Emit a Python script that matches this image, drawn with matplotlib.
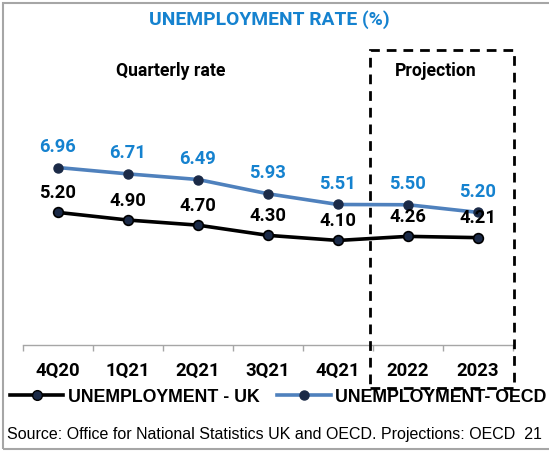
import matplotlib.pyplot as plt
from matplotlib.patches import Rectangle
from matplotlib.lines import Line2D

periods = ['4Q20', '1Q21', '2Q21', '3Q21', '4Q21', '2022', '2023']
uk_rate = [5.20, 4.90, 4.70, 4.30, 4.10, 4.26, 4.21]
oecd_rate = [6.96, 6.71, 6.49, 5.93, 5.51, 5.50, 5.20]

W, H = 549, 451
fig = plt.figure(figsize=(W / 100, H / 100), dpi=100)

# plot area in pixels: x 23..513, baseline at y=345, 25.5 px per unit
ax = fig.add_axes([23 / W, (H - 345) / H, 490 / W, 8 * 25.5 / H])
x = list(range(len(periods)))

navy = '#1b2a47'
blue_line = '#4f81bd'
blue_text = '#1582cf'
lab_font = 'Roboto'

ax.plot(x, uk_rate, color='black', lw=2.6, marker='o', ms=7,
        mfc=navy, mec='black', mew=1.2, zorder=3)
ax.plot(x, oecd_rate, color=blue_line, lw=2.6, marker='o', ms=6.5,
        mfc=navy, mec=navy, zorder=3)

for xi, v in zip(x, uk_rate):
    ax.annotate(f'{v:.2f}', (xi, v), xytext=(0, 7.5), textcoords='offset points',
                ha='center', va='bottom', fontsize=13.2, fontweight='bold',
                family=lab_font, color='black')
for xi, v in zip(x, oecd_rate):
    ax.annotate(f'{v:.2f}', (xi, v), xytext=(0, 8.5), textcoords='offset points',
                ha='center', va='bottom', fontsize=13.2, fontweight='bold',
                family=lab_font, color=blue_text)

ax.set_xlim(-0.5, len(periods) - 0.5)
ax.set_ylim(0, 8)
ax.set_yticks([])
for s in ['top', 'right', 'left']:
    ax.spines[s].set_visible(False)
ax.spines['bottom'].set_color('#a6a6a6')
ax.spines['bottom'].set_linewidth(1.0)

# category labels between boundary tick marks
ax.set_xticks([i - 0.5 for i in range(len(periods) + 1)])
ax.set_xticklabels([])
ax.set_xticks(x, minor=True)
ax.set_xticklabels(periods, minor=True, fontsize=13.3, fontweight='bold', family=lab_font)
ax.tick_params(axis='x', which='major', length=4, color='#a6a6a6', width=1)
ax.tick_params(axis='x', which='minor', length=0, pad=12)

fig.text(269 / W, 1 - 20 / H, 'UNEMPLOYMENT RATE (%)', ha='center', va='center',
         fontsize=13.9, fontweight='bold', family=lab_font, color=blue_text)
fig.text(171 / W, 1 - 71 / H, 'Quarterly rate', ha='center', va='center',
         fontsize=12.7, fontweight='bold', family=lab_font)
fig.text(436 / W, 1 - 71 / H, 'Projection', ha='center', va='center',
         fontsize=12.7, fontweight='bold', family=lab_font)

# dashed frame around the projection years
fig.patches.append(Rectangle((370 / W, 1 - 388 / H), 144 / W, 338 / H,
                             transform=fig.transFigure, fill=False, ec='black',
                             lw=2, ls=(0, (3.5, 2.5))))
# outer border
fig.patches.append(Rectangle((3 / W, 1 - 449 / H), 560 / W, 446 / H,
                             transform=fig.transFigure, fill=False, ec='#a6a6a6',
                             lw=1.5))

handles = [
    Line2D([], [], color='black', lw=2.6, marker='o', ms=7, mfc=navy, mec='black'),
    Line2D([], [], color=blue_line, lw=2.6, marker='o', ms=6.5, mfc=navy, mec=navy),
]
fig.legend(handles, ['UNEMPLOYMENT - UK', 'UNEMPLOYMENT- OECD'], ncol=2,
           loc='center left', bbox_to_anchor=(10 / W, 1 - 397 / H), frameon=False,
           prop={'family': 'Liberation Sans', 'weight': 'bold', 'size': 12.8},
           handlelength=3.0, handletextpad=0.25, columnspacing=1.0, borderpad=0,
           borderaxespad=0)

fig.text(7 / W, 1 - 435 / H,
         'Source: Office for National Statistics UK and OECD. Projections: OECD  21',
         ha='left', va='center', fontsize=11.5, family='Liberation Sans')

fig.savefig('out.png', dpi=100)
